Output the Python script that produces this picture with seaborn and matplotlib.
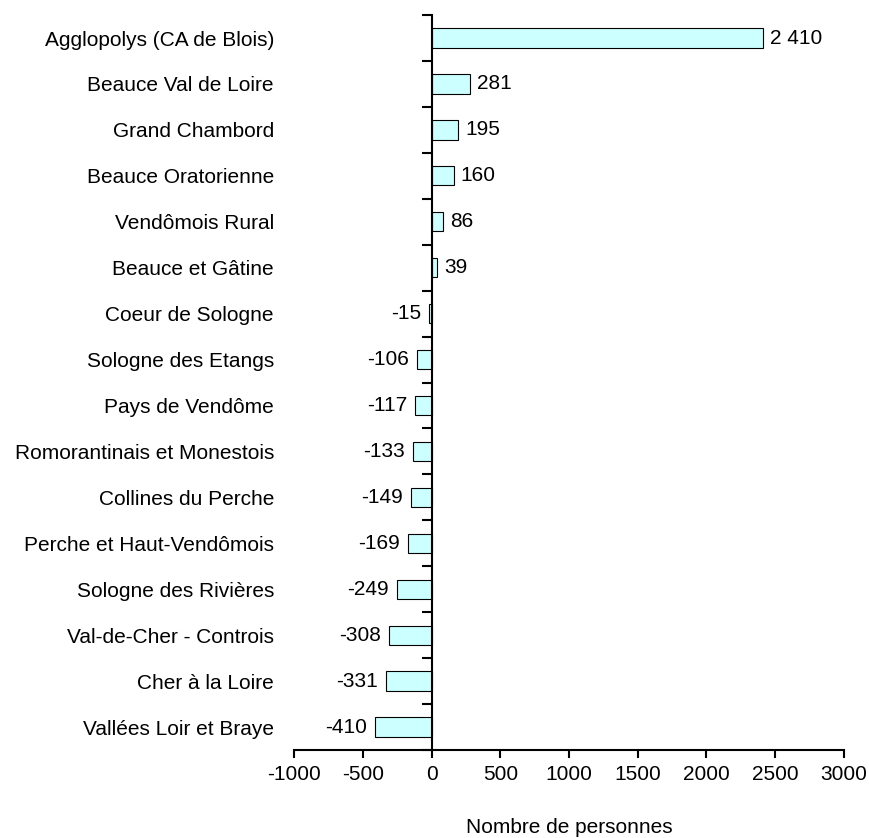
import matplotlib
matplotlib.use('Agg')
import matplotlib.pyplot as plt
from matplotlib.ticker import FixedLocator
import seaborn as sns
import pandas as pd

categories = [
    "Agglopolys (CA de Blois)", "Beauce Val de Loire", "Grand Chambord",
    "Beauce Oratorienne", "Vendômois Rural", "Beauce et Gâtine",
    "Coeur de Sologne", "Sologne des Etangs", "Pays de Vendôme",
    "Romorantinais et Monestois", "Collines du Perche",
    "Perche et Haut-Vendômois", "Sologne des Rivières",
    "Val-de-Cher - Controis", "Cher à la Loire", "Vallées Loir et Braye",
]
values = [2410, 281, 195, 160, 86, 39, -15, -106, -117, -133, -149, -169,
          -249, -308, -331, -410]
x_ticks = [-1000, -500, 0, 500, 1000, 1500, 2000, 2500, 3000]

df = pd.DataFrame({"territoire": categories, "personnes": values})

sns.set_style("white")
plt.rcParams['font.family'] = ['Liberation Sans', 'DejaVu Sans']
plt.rcParams['text.color'] = 'black'
plt.rcParams['xtick.color'] = 'black'
plt.rcParams['ytick.color'] = 'black'
plt.rcParams['axes.labelcolor'] = 'black'
fs = 15

fig = plt.figure(figsize=(8.7, 8.38), dpi=100)
ax = fig.add_axes([0.338, 0.105, 0.632, 0.877])

sns.barplot(data=df, x="personnes", y="territoire", orient="h",
            color="#CCFFFF", saturation=1, edgecolor="black",
            linewidth=0.8, width=0.42, ax=ax)

ax.set_xlim(-1000, 3000)
ax.set_xticks(x_ticks)
ax.set_xticklabels([str(t) for t in x_ticks])
n = len(categories)
ax.set_ylim(n - 0.5, -0.5)

# value labels
for i, v in enumerate(values):
    label = f"{v:,}".replace(",", " ")
    if v >= 0:
        ax.annotate(label, (v, i), xytext=(5, 0), textcoords="offset points",
                    ha="left", va="center", fontsize=fs)
    else:
        ax.annotate(label, (v, i), xytext=(-6, 0), textcoords="offset points",
                    ha="right", va="center", fontsize=fs)

# spines: vertical axis at zero, category labels stay at the left
ax.spines['top'].set_visible(False)
ax.spines['left'].set_visible(False)
ax.spines['right'].set_position(('data', 0))
ax.spines['right'].set_linewidth(1.5)
ax.spines['bottom'].set_linewidth(1.5)
ax.spines['right'].set_color('black')
ax.spines['bottom'].set_color('black')

ax.yaxis.set_minor_locator(FixedLocator([k - 0.5 for k in range(n + 1)]))
ax.tick_params(axis='y', which='major', left=False, right=False, pad=11,
               labelsize=fs)
ax.tick_params(axis='y', which='minor', left=False, right=True,
               direction='in', length=7, width=1.5, color='black')
ax.tick_params(axis='x', which='major', bottom=True, direction='out',
               length=6, width=1.5, color='black', pad=5, labelsize=fs)

ax.set_ylabel("")
ax.set_xlabel("Nombre de personnes", fontsize=fs, labelpad=24)

fig.savefig("out.png", dpi=100)
